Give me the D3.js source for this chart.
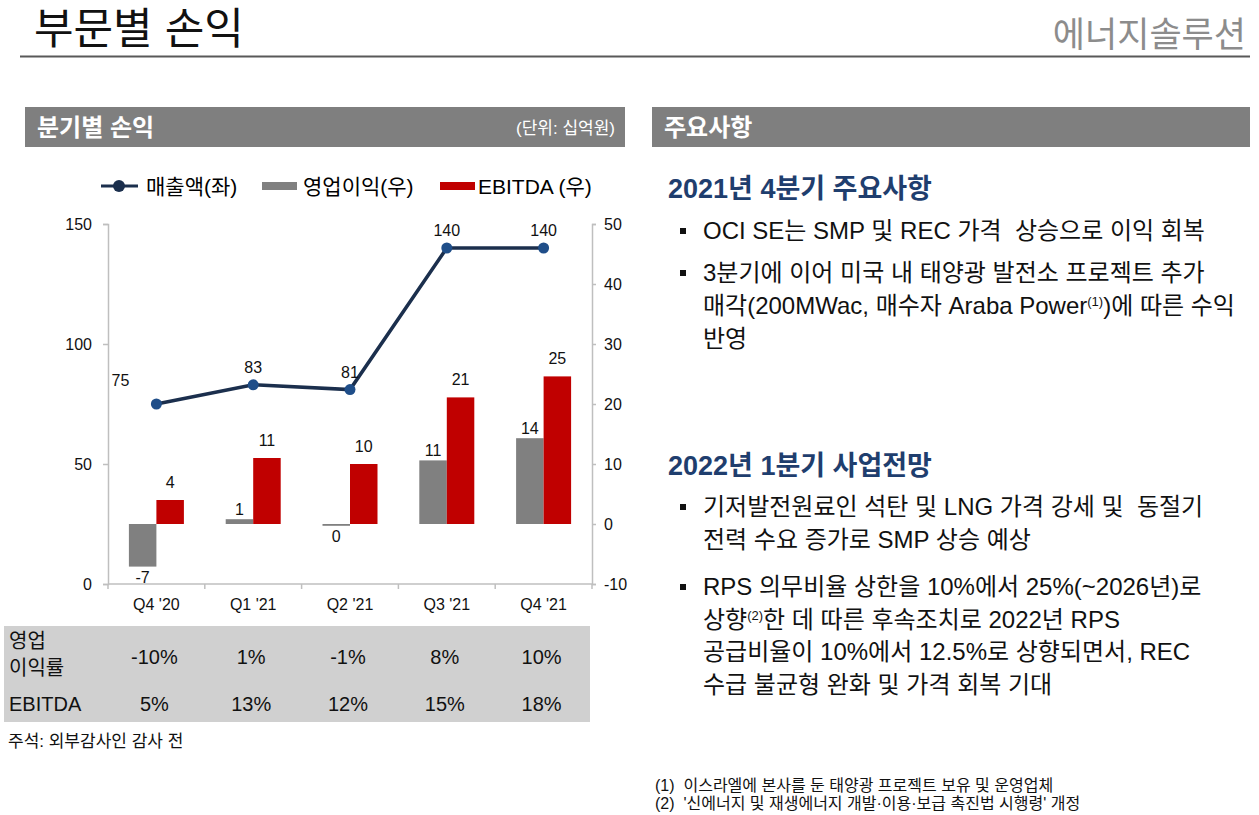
<!DOCTYPE html>
<html>
<head>
<meta charset="utf-8">
<script src="https://cdn.jsdelivr.net/npm/d3@7"></script>
<style>
  body { margin: 0; background: #fff; }
  svg text { font-family: "Liberation Sans", Arial, "Noto Sans CJK KR", sans-serif; white-space: pre; }
</style>
</head>
<body>
<div id="page"></div>
<script>
// chart data (단위: 십억원)
var quarters = ["Q4 '20", "Q1 '21", "Q2 '21", "Q3 '21", "Q4 '21"];
var revenue = [75, 83, 81, 140, 140];           // 매출액 (left axis)
var opProfit = [-7.1, 0.8, -0.3, 10.6, 14.3];   // 영업이익 (right axis)
var ebitda = [4.0, 11.0, 10.0, 21.1, 24.6];     // EBITDA (right axis)
var opMargin = [-10, 1, -1, 8, 10];             // 영업이익률 %
var ebitdaMargin = [5, 13, 12, 15, 18];         // EBITDA margin %
var leftTicks = [0, 50, 100, 150];
var rightTicks = [-10, 0, 10, 20, 30, 40, 50];

var highlights = [
  ["OCI SE는 SMP 및 REC 가격  상승으로 이익 회복"],
  ["3분기에 이어 미국 내 태양광 발전소 프로젝트 추가",
   "매각(200MWac, 매수자 Araba Power{1})에 따른 수익",
   "반영"]
];
var outlook = [
  ["기저발전원료인 석탄 및 LNG 가격 강세 및  동절기",
   "전력 수요 증가로 SMP 상승 예상"],
  ["RPS 의무비율 상한을 10%에서 25%(~2026년)로",
   "상향{2}한 데 따른 후속조치로 2022년 RPS",
   "공급비율이 10%에서 12.5%로 상향되면서, REC",
   "수급 불균형 완화 및 가격 회복 기대"]
];
var footnotes = [
  "(1)  이스라엘에 본사를 둔 태양광 프로젝트 보유 및 운영업체",
  "(2)  '신에너지 및 재생에너지 개발·이용·보급 촉진법 시행령' 개정"
];

var W = 1259, H = 815;
var navy = "#1b2f4d", dotBlue = "#1f4e89", red = "#c00000", grey = "#808080";
var axisColor = "#bfbfbf";

var svg = d3.select("#page").append("svg")
  .attr("width", W).attr("height", H);

// page title
svg.append("text").attr("x", 34).attr("y", 44)
  .style("font-size", "43px").style("fill", "#111")
  .text("부문별 손익");
svg.append("text").attr("x", 1246).attr("y", 47)
  .attr("text-anchor", "end")
  .style("font-size", "35px").style("fill", "#8c8c8c")
  .text("에너지솔루션");
svg.append("line").attr("x1", 20).attr("x2", 1250).attr("y1", 56.5).attr("y2", 56.5)
  .attr("stroke", "#595959").attr("stroke-width", 2);

// section headers
function header(x, w, title, unit) {
  svg.append("rect").attr("x", x).attr("y", 107).attr("width", w).attr("height", 40)
    .attr("fill", "#7f7f7f");
  svg.append("text").attr("x", x + 12).attr("y", 136)
    .style("font-size", "24px").style("font-weight", "700").style("fill", "#fff")
    .text(title);
  if (unit) {
    svg.append("text").attr("x", x + w - 10).attr("y", 134)
      .attr("text-anchor", "end")
      .style("font-size", "17px").style("fill", "#fff")
      .text(unit);
  }
}
header(25, 600, "분기별 손익", "(단위: 십억원)");
header(652, 598, "주요사항", null);

// legend
var lg = svg.append("g").attr("transform", "translate(0,186)").style("font-size", "21px");
lg.append("line").attr("x1", 101).attr("x2", 138).attr("y1", 0).attr("y2", 0)
  .attr("stroke", navy).attr("stroke-width", 3);
lg.append("circle").attr("cx", 119).attr("cy", 0).attr("r", 6).attr("fill", navy);
lg.append("text").attr("x", 146).attr("y", 8).text("매출액(좌)");
lg.append("rect").attr("x", 262).attr("y", -4).attr("width", 35).attr("height", 8).attr("fill", grey);
lg.append("text").attr("x", 303).attr("y", 8).text("영업이익(우)");
lg.append("rect").attr("x", 440).attr("y", -4).attr("width", 35).attr("height", 8).attr("fill", red);
lg.append("text").attr("x", 478).attr("y", 8).text("EBITDA (우)");

// scales
var x = d3.scaleBand().domain(quarters).range([108, 592]);
var yL = d3.scaleLinear().domain([0, 150]).range([584, 224]);
var yR = d3.scaleLinear().domain([-10, 50]).range([584, 224]);
var barW = 27.5;
var xSub = d3.scaleBand().domain(["op", "ebitda"])
  .range([x.bandwidth() / 2 - barW, x.bandwidth() / 2 + barW]);

// axes
function styleAxis(g) {
  g.selectAll("path, line").attr("stroke", axisColor).attr("stroke-width", 1.5);
  g.selectAll("text").style("font-size", "16px").style("fill", "#111")
    .style("font-family", '"Liberation Sans", Arial, sans-serif');
}
svg.append("g").attr("transform", "translate(108,0)")
  .call(d3.axisLeft(yL).tickValues(leftTicks).tickSizeInner(5).tickSizeOuter(5).tickPadding(11)
    .tickFormat(function (d) { return String(d); }))
  .call(styleAxis);
svg.append("g").attr("transform", "translate(592,0)")
  .call(d3.axisRight(yR).tickValues(rightTicks).tickSizeInner(4).tickSizeOuter(4).tickPadding(8)
    .tickFormat(function (d) { return String(d); }))
  .call(styleAxis);

var xAxis = svg.append("g").attr("transform", "translate(0,584)");
xAxis.append("line").attr("x1", 108).attr("x2", 592).attr("y1", 0).attr("y2", 0)
  .attr("stroke", axisColor).attr("stroke-width", 1.5);
xAxis.selectAll(".xtick").data(quarters.concat(["end"])).join("line")
  .attr("x1", function (d, i) { return i < quarters.length ? x(d) : x.range()[1]; })
  .attr("x2", function (d, i) { return i < quarters.length ? x(d) : x.range()[1]; })
  .attr("y1", 0).attr("y2", 5)
  .attr("stroke", axisColor).attr("stroke-width", 1.5);
xAxis.selectAll(".xlab").data(quarters).join("text")
  .attr("x", function (d) { return x(d) + x.bandwidth() / 2; })
  .attr("y", 26)
  .attr("text-anchor", "middle")
  .style("font-size", "16px").style("fill", "#111")
  .text(function (d) { return d; });

// bars
var rows = quarters.map(function (q, i) {
  return { q: q, rev: revenue[i], op: opProfit[i], eb: ebitda[i] };
});
var bars = svg.append("g");
bars.selectAll(".op").data(rows).join("rect")
  .attr("x", function (d) { return x(d.q) + xSub("op"); })
  .attr("width", xSub.bandwidth())
  .attr("y", function (d) { return yR(Math.max(0, d.op)); })
  .attr("height", function (d) { return Math.abs(yR(d.op) - yR(0)); })
  .attr("fill", grey);
bars.selectAll(".eb").data(rows).join("rect")
  .attr("x", function (d) { return x(d.q) + xSub("ebitda"); })
  .attr("width", xSub.bandwidth())
  .attr("y", function (d) { return yR(Math.max(0, d.eb)); })
  .attr("height", function (d) { return Math.abs(yR(d.eb) - yR(0)); })
  .attr("fill", red);

// bar labels
function fmt(v) { return String(Math.round(v)); }
bars.selectAll(".opl").data(rows).join("text")
  .attr("x", function (d) { return x(d.q) + xSub("op") + xSub.bandwidth() / 2; })
  .attr("y", function (d) { return d.op >= 0 ? yR(d.op) - 4 : yR(d.op) + 16; })
  .attr("text-anchor", "middle")
  .style("font-size", "16px").style("fill", "#111")
  .text(function (d) { return fmt(d.op); });
bars.selectAll(".ebl").data(rows).join("text")
  .attr("x", function (d) { return x(d.q) + xSub("ebitda") + xSub.bandwidth() / 2; })
  .attr("y", function (d) { return yR(d.eb) - 12; })
  .attr("text-anchor", "middle")
  .style("font-size", "16px").style("fill", "#111")
  .text(function (d) { return fmt(d.eb); });

// revenue line
var cx = function (d) { return x(d.q) + x.bandwidth() / 2; };
svg.append("path").datum(rows)
  .attr("d", d3.line().x(cx).y(function (d) { return yL(d.rev); }))
  .attr("fill", "none").attr("stroke", navy).attr("stroke-width", 3.5);
svg.selectAll(".pt").data(rows).join("circle")
  .attr("cx", cx).attr("cy", function (d) { return yL(d.rev); })
  .attr("r", 5.5).attr("fill", dotBlue);
svg.selectAll(".revl").data(rows).join("text")
  .attr("x", function (d, i) { return cx(d) + (i === 0 ? -36 : 0); })
  .attr("y", function (d, i) { return yL(d.rev) + (i === 0 ? -18 : -12); })
  .attr("text-anchor", "middle")
  .style("font-size", "16px").style("fill", "#111")
  .text(function (d) { return fmt(d.rev); });

// margin table
svg.append("rect").attr("x", 4).attr("y", 626).attr("width", 586).attr("height", 96)
  .attr("fill", "#d0d0d0");
var tbl = svg.append("g").style("font-size", "20px").style("fill", "#111");
tbl.append("text").attr("x", 9).attr("y", 648).text("영업");
tbl.append("text").attr("x", 9).attr("y", 675).text("이익률");
tbl.append("text").attr("x", 9).attr("y", 711).text("EBITDA");
tbl.selectAll(".m1").data(opMargin).join("text")
  .attr("x", function (d, i) { return x(quarters[i]) + x.bandwidth() / 2 - 2; })
  .attr("y", 664).attr("text-anchor", "middle")
  .text(function (d) { return d + "%"; });
tbl.selectAll(".m2").data(ebitdaMargin).join("text")
  .attr("x", function (d, i) { return x(quarters[i]) + x.bandwidth() / 2 - 2; })
  .attr("y", 711).attr("text-anchor", "middle")
  .text(function (d) { return d + "%"; });

svg.append("text").attr("x", 8).attr("y", 747)
  .style("font-size", "17px").style("fill", "#111")
  .text("주석: 외부감사인 감사 전");

// right panel text; {n} marks a superscript note number
function writeLine(g, str, xx, yy) {
  var t = g.append("text").attr("x", xx).attr("y", yy);
  var parts = str.split(/\{(\d)\}/);
  parts.forEach(function (p, k) {
    if (k % 2 === 1) {
      t.append("tspan").attr("y", yy - 8).style("font-size", "13px").text("(" + p + ")");
    } else if (p.length) {
      t.append("tspan").attr("y", yy).text(p);
    }
  });
}
function section(title, items, titleY, firstY, lineGap, itemGap) {
  svg.append("text").attr("x", 668).attr("y", titleY)
    .style("font-size", "27px").style("font-weight", "700").style("fill", "#1f3e6e")
    .text(title);
  var g = svg.append("g").style("font-size", "24px").style("fill", "#111");
  var yy = firstY;
  items.forEach(function (lines) {
    g.append("rect").attr("x", 680).attr("y", yy - 11).attr("width", 6).attr("height", 6)
      .attr("fill", "#111");
    lines.forEach(function (ln) {
      writeLine(g, ln, 703, yy);
      yy += lineGap;
    });
    yy += itemGap;
  });
}
section("2021년 4분기 주요사항", highlights, 198, 239, 33, 9);
section("2022년 1분기 사업전망", outlook, 475, 515, 32.5, 15);

svg.append("g").style("font-size", "16px").style("fill", "#111")
  .selectAll("text").data(footnotes).join("text")
  .attr("x", 655).attr("y", function (d, i) { return 791 + i * 18; })
  .text(function (d) { return d; });
</script>
</body>
</html>
